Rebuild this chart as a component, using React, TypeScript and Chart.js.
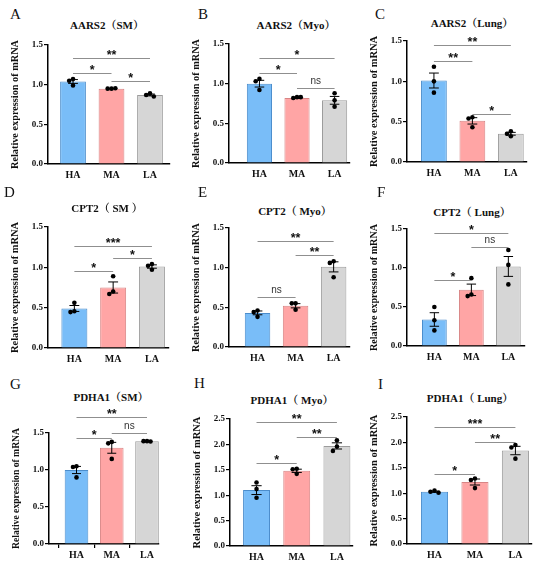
import React, { useEffect, useRef } from "react";
import { Chart, registerables } from "chart.js";

Chart.register(...registerables);

// ---------------- data ----------------
const groups = ["HA", "MA", "LA"];
const panelLetters = ["A", "B", "C", "D", "E", "F", "G", "H", "I"];
const panelTitles = [
  "AARS2（SM）",
  "AARS2（Myo）",
  "AARS2（Lung）",
  "CPT2（ SM ）",
  "CPT2（ Myo）",
  "CPT2（ Lung）",
  "PDHA1（SM）",
  "PDHA1（ Myo）",
  "PDHA1（ Lung）",
];
const yAxisTitle = "Relative expression of mRNA";
const yMaxes = [1.5, 1.5, 1.5, 1.5, 1.5, 1.5, 1.5, 2.5, 2.5];

const barMeans = [
  [1.04, 0.95, 0.87],
  [1.0, 0.82, 0.79],
  [1.01, 0.51, 0.35],
  [0.49, 0.75, 1.01],
  [0.43, 0.52, 1.01],
  [0.34, 0.72, 1.02],
  [1.0, 1.3, 1.39],
  [1.1, 1.48, 1.97],
  [1.03, 1.22, 1.84],
];

const replicates = [
  [[1.07, 1.05, 0.99], [0.95, 0.95, 0.955], [0.89, 0.87, 0.85]],
  [[1.06, 1.03, 0.92], [0.83, 0.82, 0.83], [0.88, 0.79, 0.71]],
  [[1.18, 1.0, 0.86], [0.555, 0.54, 0.43], [0.38, 0.35, 0.32]],
  [[0.56, 0.455, 0.445], [0.89, 0.7, 0.67], [1.04, 1.02, 0.97]],
  [[0.46, 0.44, 0.38], [0.55, 0.55, 0.47], [1.08, 1.06, 0.88]],
  [[0.5, 0.33, 0.2], [0.87, 0.66, 0.64], [1.23, 1.04, 0.79]],
  [[1.05, 1.04, 0.9], [1.38, 1.36, 1.15], [1.39, 1.39, 1.385]],
  [[1.25, 1.12, 0.95], [1.52, 1.51, 1.42], [2.08, 1.96, 1.87]],
  [[1.05, 1.03, 1.01], [1.29, 1.26, 1.1], [1.95, 1.9, 1.68]],
];

// [fromGroup, toGroup, y value of the line, label]
const significance: [number, number, number, string][][] = [
  [[0, 2, 1.34, "**"], [0, 1, 1.15, "*"], [1, 2, 1.04, "*"]],
  [[0, 2, 1.32, "*"], [0, 1, 1.13, "*"], [1, 2, 0.95, "ns"]],
  [[0, 2, 1.45, "**"], [0, 1, 1.25, "**"], [1, 2, 0.6, "*"]],
  [[0, 2, 1.27, "***"], [0, 1, 0.96, "*"], [1, 2, 1.11, "*"]],
  [[0, 2, 1.34, "**"], [1, 2, 1.16, "**"], [0, 1, 0.63, "ns"]],
  [[0, 2, 1.45, "*"], [1, 2, 1.27, "ns"], [0, 1, 0.84, "*"]],
  [[0, 2, 1.71, "**"], [0, 1, 1.43, "*"], [1, 2, 1.5, "ns"]],
  [[0, 2, 2.45, "**"], [1, 2, 2.14, "**"], [0, 1, 1.64, "*"]],
  [[0, 2, 2.3, "***"], [1, 2, 2.0, "**"], [0, 1, 1.37, "*"]],
];

// ---------------- styles / layout ----------------
const fillColors = ["#79bdf8", "#ffa5a5", "#d6d6d6"];
const edgeColors = ["#4b8dcc", "#d88585", "#9c9c9c"];
const SERIF = "'Liberation Serif', 'Times New Roman', 'Noto Serif CJK SC', 'Noto Sans CJK SC', serif";
const SANS = "'Liberation Sans', Arial, sans-serif";

// chart area in page pixels: left, top, right, bottom
const plotBoxes = [
  [48, 45, 170, 164],
  [229, 44, 350, 163],
  [407, 41, 527, 162],
  [48, 227, 169, 348],
  [229, 228, 350, 347],
  [407, 229, 525, 346],
  [49, 433, 159, 544],
  [230, 419, 353, 546],
  [407, 417, 532, 544],
];
const xRanges = [
  [-0.65, 2.52],
  [-0.81, 2.41],
  [-0.7, 2.42],
  [-0.68, 2.44],
  [-0.75, 2.43],
  [-0.74, 2.45],
  [-0.78, 2.34],
  [-0.66, 2.4],
  [-0.68, 2.41],
];
const letterPos = [
  [10, 7], [198, 7], [375, 7],
  [4, 185], [198, 185], [377, 185],
  [10, 377], [194, 376], [378, 377],
];
const titlePos = [
  [107, 25], [296, 25], [472, 23],
  [107, 208], [295, 211], [472, 212],
  [111, 397], [292, 400], [470, 398],
];
const showXTicks = [false, false, false, false, false, false, true, false, false];

const Y_AXIS_W = 40;
const X_AXIS_H = 22;
const PAD_TOP = 40;
const PAD_RIGHT = 8;
const Y_TITLE_OFFSET = 32.5;

function sem(vals: number[]) {
  const m = vals.reduce((a, b) => a + b, 0) / vals.length;
  const v = vals.reduce((a, b) => a + (b - m) * (b - m), 0) / (vals.length - 1);
  return Math.sqrt(v) / Math.sqrt(vals.length);
}

function spread(values: number[], thr: number) {
  const slots = [0, -0.1, 0.1];
  const used: number[] = [];
  values.forEach((v, j) => {
    const taken: number[] = [];
    for (let k = 0; k < j; k++) {
      if (Math.abs(values[k] - v) < thr) taken.push(used[k]);
    }
    const slot = slots.find((s) => !taken.includes(s));
    used.push(slot === undefined ? 0 : slot);
  });
  return used;
}

function Panel({ index }: { index: number }) {
  const ref = useRef<HTMLCanvasElement | null>(null);
  const [L, T, R, B] = plotBoxes[index];
  const width = Y_AXIS_W + (R - L) + PAD_RIGHT;
  const height = PAD_TOP + (B - T) + X_AXIS_H;

  useEffect(() => {
    if (!ref.current) return;
    const means = barMeans[index];
    const reps = replicates[index];
    const yMax = yMaxes[index];
    const sigs = significance[index];

    const barData = means.map((m, i) => ({ x: i, y: m }));
    const dotData: { x: number; y: number }[] = [];
    reps.forEach((vals, i) => {
      const offs = spread(vals, yMax * 0.04);
      vals.forEach((v, j) => dotData.push({ x: i + offs[j], y: v }));
    });

    const overlay = {
      id: "overlay",
      afterDatasetsDraw(chart: any) {
        const ctx = chart.ctx;
        const xs = chart.scales.x;
        const ys = chart.scales.y;
        const meta = chart.getDatasetMeta(0);
        ctx.save();
        // error bars (mean ± SEM)
        ctx.strokeStyle = "#000";
        ctx.lineWidth = 1;
        reps.forEach((vals, i) => {
          const s = sem(vals);
          const cx = xs.getPixelForValue(i);
          const bw = meta.data[i] ? meta.data[i].width : 24;
          const cap = bw * 0.19;
          const y1 = ys.getPixelForValue(means[i] + s);
          const y2 = ys.getPixelForValue(means[i] - s);
          ctx.beginPath();
          ctx.moveTo(cx, y1);
          ctx.lineTo(cx, y2);
          ctx.moveTo(cx - cap, y1);
          ctx.lineTo(cx + cap, y1);
          ctx.moveTo(cx - cap, y2);
          ctx.lineTo(cx + cap, y2);
          ctx.stroke();
        });
        // significance lines
        sigs.forEach(([a, b, yv, label]) => {
          const xa = xs.getPixelForValue(a);
          const xb = xs.getPixelForValue(b);
          const y = Math.round(ys.getPixelForValue(yv)) + 0.5;
          ctx.strokeStyle = "#8f8f8f";
          ctx.lineWidth = 1;
          ctx.beginPath();
          ctx.moveTo(xa, y);
          ctx.lineTo(xb, y);
          ctx.stroke();
          ctx.textAlign = "center";
          ctx.textBaseline = "alphabetic";
          if (label === "ns") {
            ctx.fillStyle = "#333";
            ctx.font = `10px ${SANS}`;
            ctx.fillText(label, (xa + xb) / 2, y - 5);
          } else {
            ctx.fillStyle = "#111";
            ctx.font = `bold 12.5px ${SANS}`;
            ctx.fillText(label, (xa + xb) / 2, y + 0.5);
          }
        });
        // y axis title
        const area = chart.chartArea;
        ctx.translate(area.left - Y_TITLE_OFFSET, (area.top + area.bottom) / 2);
        ctx.rotate(-Math.PI / 2);
        ctx.fillStyle = "#111";
        ctx.font = `bold 10.5px ${SERIF}`;
        ctx.textAlign = "center";
        ctx.textBaseline = "middle";
        ctx.fillText(yAxisTitle, 0, 0, area.bottom - area.top + 10);
        ctx.restore();
      },
    };

    const tickFont = { family: SERIF, size: 9, weight: "bold" as const };
    const chart = new Chart(ref.current, {
      type: "bar",
      data: {
        datasets: [
          {
            type: "bar",
            data: barData as any,
            backgroundColor: fillColors,
            borderColor: edgeColors,
            borderWidth: 1,
            barPercentage: 0.67,
            categoryPercentage: 1,
            order: 2,
          },
          {
            type: "scatter",
            data: dotData as any,
            pointRadius: 2.3,
            pointBackgroundColor: "#000",
            pointBorderWidth: 0,
            order: 1,
          } as any,
        ],
      },
      options: {
        animation: false,
        responsive: false,
        layout: { padding: { top: PAD_TOP, right: PAD_RIGHT, left: 0, bottom: 0 } },
        plugins: {
          legend: { display: false },
          tooltip: { enabled: false },
        },
        scales: {
          x: {
            type: "linear",
            min: xRanges[index][0],
            max: xRanges[index][1],
            offset: false,
            afterBuildTicks: (s: any) => {
              s.ticks = groups.map((_, i) => ({ value: i }));
            },
            afterFit: (s: any) => {
              s.height = X_AXIS_H;
            },
            ticks: {
              callback: (v: any) => groups[Math.round(Number(v))] ?? "",
              font: { family: SERIF, size: 10, weight: "bold" },
              color: "#111",
              padding: 1,
              maxRotation: 0,
              autoSkip: false,
            },
            grid: {
              display: true,
              drawOnChartArea: false,
              drawTicks: true,
              tickLength: 4,
              lineWidth: 1.2,
              color: showXTicks[index] ? "#000" : "rgba(0,0,0,0)",
            },
            border: { display: true, color: "#000", width: 1.5 },
          } as any,
          y: {
            min: 0,
            max: yMax,
            afterFit: (s: any) => {
              s.width = Y_AXIS_W;
            },
            ticks: {
              stepSize: 0.5,
              callback: (v: any) => Number(v).toFixed(1),
              font: tickFont,
              color: "#111",
              padding: 1,
            },
            grid: {
              display: true,
              drawOnChartArea: false,
              drawTicks: true,
              tickLength: 4,
              lineWidth: 1.2,
              color: "#000",
            },
            border: { display: true, color: "#000", width: 1.5 },
            title: { display: false },
          },
        },
      },
      plugins: [overlay],
    });
    return () => chart.destroy();
  }, [index]);

  return (
    <>
      <div
        style={{
          position: "absolute",
          left: letterPos[index][0],
          top: letterPos[index][1],
          fontFamily: SERIF,
          fontSize: 15,
          lineHeight: 1,
          color: "#111",
        }}
      >
        {panelLetters[index]}
      </div>
      <div
        style={{
          position: "absolute",
          left: titlePos[index][0],
          top: titlePos[index][1],
          transform: "translate(-50%, -50%)",
          fontFamily: SERIF,
          fontWeight: "bold",
          fontSize: 11,
          lineHeight: 1,
          whiteSpace: "pre",
          color: "#111",
        }}
      >
        {panelTitles[index]}
      </div>
      <canvas
        ref={ref}
        width={width}
        height={height}
        style={{
          position: "absolute",
          left: L - Y_AXIS_W,
          top: T - PAD_TOP,
          width,
          height,
        }}
      />
    </>
  );
}

export default function App() {
  return (
    <div
      style={{
        position: "absolute",
        left: 0,
        top: 0,
        width: 550,
        height: 568,
        background: "#fff",
        overflow: "hidden",
      }}
    >
      {panelLetters.map((_, i) => (
        <Panel key={i} index={i} />
      ))}
    </div>
  );
}
